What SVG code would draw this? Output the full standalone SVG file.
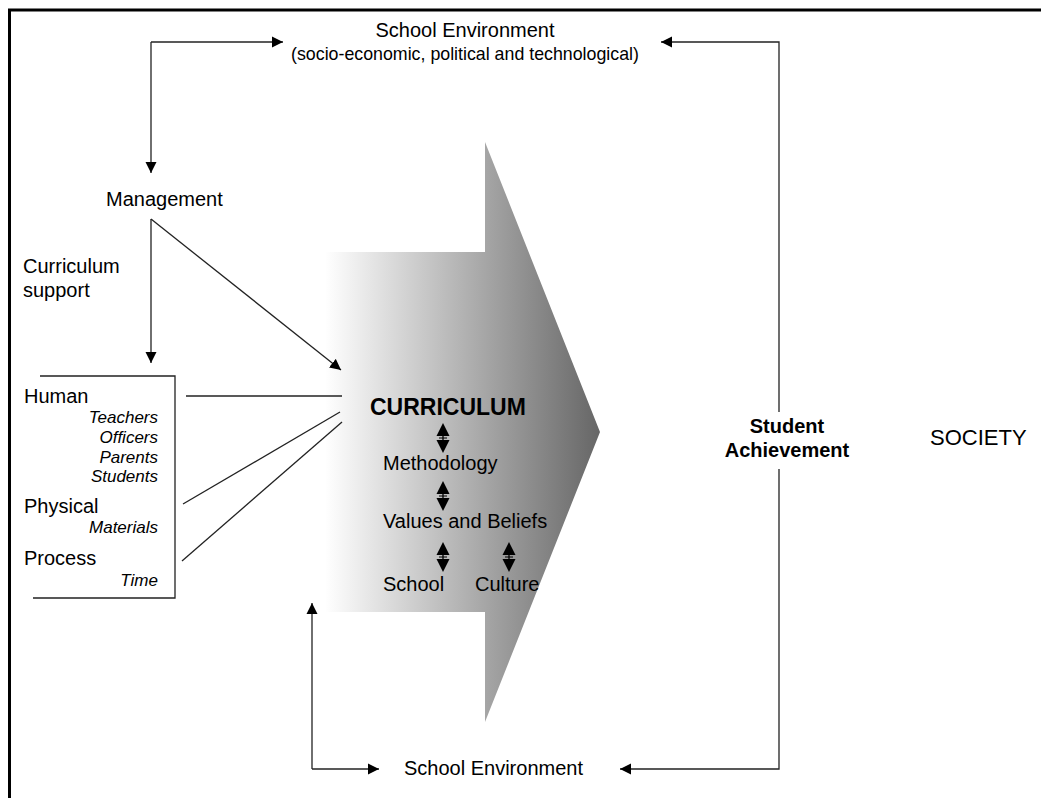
<svg xmlns="http://www.w3.org/2000/svg" width="1041" height="798" viewBox="0 0 1041 798">
<style>
text{font-family:"Liberation Sans",Arial,sans-serif;fill:#000}
.t20{font-size:20px}
.it{font-size:17px;font-style:italic;text-anchor:end}
.sub{font-size:17.8px}
.b20{font-size:20px;font-weight:bold}
.ln{stroke:#222;stroke-width:1.3;fill:none}
.arr{marker-end:url(#ah)}
</style>
<defs>
<linearGradient id="grad" gradientUnits="userSpaceOnUse" x1="325" y1="0" x2="600" y2="0">
<stop offset="0" stop-color="#ffffff"/>
<stop offset="1" stop-color="#666666"/>
</linearGradient>
<marker id="ah" markerUnits="userSpaceOnUse" markerWidth="12" markerHeight="12" viewBox="0 0 12 12" refX="11" refY="6" orient="auto">
<path d="M0,0.5 L11,6 L0,11.5 Z" fill="#000"/>
</marker>
<g id="dbl">
<path d="M0,0 L-6.5,13 L6.5,13 Z" fill="#000"/>
<path d="M0,30 L-6.5,17 L6.5,17 Z" fill="#000"/>
<line x1="0" y1="13" x2="0" y2="17" stroke="#000" stroke-width="1.3"/>
<line x1="-4" y1="15" x2="4" y2="15" stroke="#000" stroke-width="1"/>
</g>
</defs>
<rect x="0" y="0" width="1041" height="798" fill="#fff"/>
<path d="M9.5,800 L9.5,10 L1045,10" fill="none" stroke="#000" stroke-width="3"/>

<g id="curriculum-arrow">
<path d="M320,252 L485,252 L485,142 L600,432 L485,722 L485,612 L320,612 Z" fill="url(#grad)"/>
</g>

<g id="connectors">
<path class="ln arr" d="M151,42 L283,42"/>
<path class="ln arr" d="M151,42 L151,173"/>
<path class="ln arr" d="M779,412 L779,42 L661,42"/>
<path class="ln arr" d="M151,219 L151,363"/>
<path class="ln arr" d="M151,219 L341,370"/>
<path class="ln" d="M186,396 L342,396"/>
<path class="ln" d="M183,504 L340,412"/>
<path class="ln" d="M182,561 L342,422"/>
<path class="ln arr" d="M312,769 L379,769"/>
<path class="ln arr" d="M312,769 L312,603"/>
<path class="ln arr" d="M779,469 L779,769 L620,769"/>
<use href="#dbl" x="443" y="423"/>
<use href="#dbl" x="443" y="481"/>
<use href="#dbl" x="443" y="542"/>
<use href="#dbl" x="509" y="542"/>
</g>

<g id="school-env-top">
<text class="t20" x="465" y="37" text-anchor="middle">School Environment</text>
<text class="sub" x="465" y="60" text-anchor="middle">(socio-economic, political and technological)</text>
</g>

<g id="management">
<text class="t20" x="106" y="206">Management</text>
</g>

<g id="curriculum-support">
<text class="t20" x="23" y="273">Curriculum</text>
<text class="t20" x="23" y="297">support</text>
</g>

<g id="resources">
<path class="ln" d="M40,376 L175,376 L175,598 L33,598"/>
<text class="t20" x="24" y="403">Human</text>
<text class="it" x="158" y="423">Teachers</text>
<text class="it" x="158" y="443">Officers</text>
<text class="it" x="158" y="463">Parents</text>
<text class="it" x="158" y="482">Students</text>
<text class="t20" x="24" y="513">Physical</text>
<text class="it" x="158" y="533">Materials</text>
<text class="t20" x="24" y="565">Process</text>
<text class="it" x="158" y="586">Time</text>
</g>

<g id="curriculum">
<text x="370" y="415" style="font-size:23px;font-weight:bold">CURRICULUM</text>
<text class="t20" x="383" y="470">Methodology</text>
<text class="t20" x="383" y="528">Values and Beliefs</text>
<text class="t20" x="383" y="591">School</text>
<text class="t20" x="475" y="591">Culture</text>
</g>

<g id="student-achievement">
<text class="b20" x="787" y="433" text-anchor="middle">Student</text>
<text class="b20" x="787" y="457" text-anchor="middle">Achievement</text>
</g>

<g id="society">
<text x="930" y="445" style="font-size:22px">SOCIETY</text>
</g>

<g id="school-env-bottom">
<text class="t20" x="404" y="775">School Environment</text>
</g>
</svg>
